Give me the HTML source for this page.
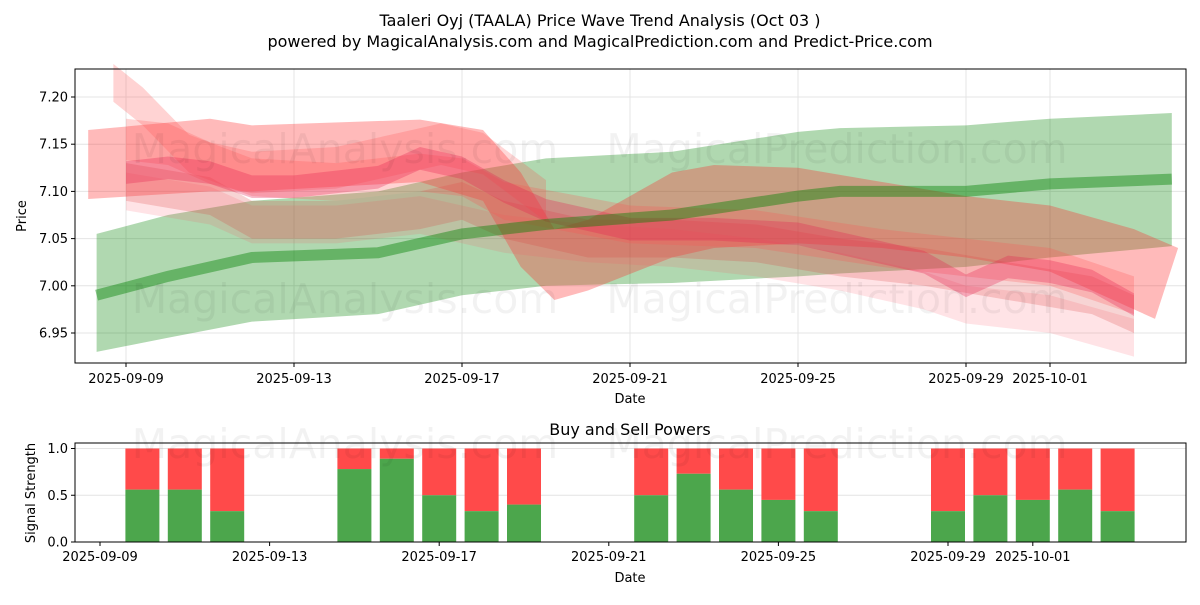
<!DOCTYPE html>
<html><head><meta charset="utf-8"><style>
body{margin:0;background:#fff;font-family:"Liberation Sans","DejaVu Sans",sans-serif}
svg text{font-family:"DejaVu Sans","Liberation Sans",sans-serif}
</style></head><body>
<svg id="chart" width="1200" height="600" viewBox="0 0 1200 600" xmlns="http://www.w3.org/2000/svg">
<text x="600" y="26" font-size="16" text-anchor="middle">Taaleri Oyj (TAALA) Price Wave Trend Analysis (Oct 03 )</text>
<text x="600" y="47" font-size="16" text-anchor="middle">powered by MagicalAnalysis.com and MagicalPrediction.com and Predict-Price.com</text>
<g id="topPanel"></g>
<g id="botPanel"></g>
</svg>
<script>
// ---- data (day offsets from 2025-09-09) ----
const yTicks=[6.95,7.00,7.05,7.10,7.15,7.20];
const xTickDays=[0,4,8,12,16,20,22];
const xTickLabels=["2025-09-09","2025-09-13","2025-09-17","2025-09-21","2025-09-25","2025-09-29","2025-10-01"];
const greenDays=[-0.7,1,3,6,8,10,13,16,17,20,22,24.9];
const greenMid=[6.99,7.01,7.03,7.035,7.055,7.065,7.075,7.095,7.10,7.10,7.108,7.113];
const greenUp=[7.055,7.075,7.09,7.10,7.12,7.135,7.142,7.163,7.167,7.17,7.177,7.183];
const greenLo=[6.93,6.945,6.962,6.97,6.99,7.0,7.003,7.01,7.013,7.02,7.03,7.042];
const bigUpDays=[-0.9,2,3,7,8.5,9.4,10.2,11,13,14,16,18,20,22,24,25.05];
const bigUp=[7.165,7.177,7.17,7.176,7.165,7.12,7.06,7.07,7.12,7.128,7.125,7.11,7.095,7.085,7.06,7.04];
const bigLoDays=[-0.9,2,3,7,8.5,9.4,10.2,11,13,14,16,18,20,22,24.5];
const bigLo=[7.092,7.1,7.1,7.11,7.09,7.02,6.985,6.995,7.03,7.04,7.045,7.04,7.03,7.015,6.965];
const b1Days=[-0.3,0.4,1.5,3,5,7,8,9,12,15,18,20,22,24];
const b1Mid=[7.215,7.19,7.14,7.115,7.11,7.12,7.115,7.09,7.065,7.06,7.04,7.03,7.02,6.99];
const b2Days=[0,1,2,3,4,5,6,7,8,9,10,12,14,16,18,19,20,21,22,23,24];
const b2Mid=[7.12,7.125,7.12,7.105,7.105,7.11,7.115,7.135,7.125,7.1,7.08,7.06,7.06,7.055,7.035,7.025,7.0,7.02,7.015,7.005,6.98];
const b3Days=[0,2,3,5,7,8,9,11,13,15,17,19,21,23,24];
const b3Mid=[7.11,7.095,7.07,7.07,7.08,7.09,7.07,7.05,7.05,7.045,7.03,7.02,7.005,6.99,6.97];
const b4Days=[0,2,3,5,7,9,11,13,15,17,19,20,22,24];
const b4Mid=[7.1,7.085,7.065,7.065,7.075,7.055,7.045,7.04,7.03,7.015,6.995,6.98,6.97,6.945];
const b5Days=[0,1,2,3,5,6.5,7.5,8.5,10];
const b5Mid=[7.155,7.15,7.13,7.12,7.125,7.14,7.15,7.14,7.09];
const barDays=[1,2,3,6,7,8,9,10,13,14,15,16,17,20,21,22,23,24];
const buyVals=[0.56,0.56,0.33,0.78,0.89,0.5,0.33,0.4,0.5,0.73,0.56,0.45,0.33,0.33,0.5,0.45,0.56,0.33];
const powTicks=[0,0.5,1.0];

const NS="http://www.w3.org/2000/svg";
function mk(p,t,a){const e=document.createElementNS(NS,t);for(const k in a)e.setAttribute(k,a[k]);p.appendChild(e);return e;}
const L=75,R=1186,T=69,B=363;
const X=d=>126+42*d, Y=v=>333+(6.95-v)*(236/0.25);
const topG=document.getElementById('topPanel'), botG=document.getElementById('botPanel');
const svgRoot=document.getElementById('chart');
yTicks.forEach((v,i)=>{
 const g=mk(topG,'line',{x1:L,x2:R,y1:Y(v),y2:Y(v),stroke:'#e4e4e4'});
 
 
 mk(topG,'line',{x1:L-4,x2:L,y1:Y(v),y2:Y(v),stroke:'#000'});
 const t=mk(topG,'text',{x:L-7,y:Y(v)+4.5,'font-size':13,'text-anchor':'end'});t.textContent=v.toFixed(2);
 
 
});
xTickDays.forEach((d,i)=>{
 mk(topG,'line',{x1:X(d),x2:X(d),y1:T,y2:B,stroke:'#e4e4e4'});
 mk(topG,'line',{x1:X(d),x2:X(d),y1:B,y2:B+4,stroke:'#000'});
 const t=mk(topG,'text',{x:X(d),y:B+20,'font-size':13,'text-anchor':'middle'});t.textContent=xTickLabels[i];
 
 
});
[[345,163,'MagicalAnalysis.com'],[837,163,'MagicalPrediction.com'],[345,313,'MagicalAnalysis.com'],[837,313,'MagicalPrediction.com'],[345,458,'MagicalAnalysis.com'],[837,458,'MagicalPrediction.com']].forEach(w=>{
 const t=mk(svgRoot,'text',{x:w[0],y:w[1],'font-size':41,'text-anchor':'middle',fill:'rgba(0,0,0,0.05)'});t.textContent=w[2];
 
 
});
function band2(upDays,up,loDays,lo,fill,name){
 let pts=upDays.map((d,i)=>X(d)+','+Y(up[i]));
 for(let i=loDays.length-1;i>=0;i--)pts.push(X(loDays[i])+','+Y(lo[i]));
 const p=mk(topG,'polygon',{points:pts.join(' '),fill:fill});
 
 
}
function cband(days,mid,hw,fill,name){band2(days,mid.map(v=>v+hw),days,mid.map(v=>v-hw),fill,name);}
band2(greenDays,greenUp,greenDays,greenLo,'rgba(0,128,0,0.31)','green-trend-band');
band2(bigUpDays,bigUp,bigLoDays,bigLo,'rgba(255,40,40,0.32)','red-wave-band-wide');
cband(b4Days,b4Mid,0.02,'rgba(255,80,100,0.16)','red-wave-band-lower');
cband(b3Days,b3Mid,0.02,'rgba(220,60,60,0.22)','red-wave-band-mid');
cband(b5Days,b5Mid,0.022,'rgba(255,70,70,0.22)','red-wave-band-upper');
cband(b1Days,b1Mid,0.02,'rgba(255,80,80,0.25)','red-wave-band-steep');
cband(b2Days,b2Mid,0.012,'rgba(230,30,80,0.3)','red-wave-band-core');
const gl=mk(topG,'polyline',{points:greenDays.map((d,i)=>X(d)+','+Y(greenMid[i])).join(' '),fill:'none',stroke:'rgba(0,128,0,0.42)','stroke-width':11});


mk(topG,'rect',{x:L,y:T,width:R-L,height:B-T,fill:'none',stroke:'#000'});
let tt=mk(topG,'text',{x:630,y:403,'font-size':13,'text-anchor':'middle'});tt.textContent='Date';


tt=mk(topG,'text',{x:0,y:0,'font-size':13,'text-anchor':'middle',transform:'translate(26,216) rotate(-90)'});tt.textContent='Price';



const BL=75,BR=1186,BT=443,BB=542;
const BX=d=>100+42.4*d, BY=v=>542-v*93.5;
powTicks.forEach(v=>{
 mk(botG,'line',{x1:BL,x2:BR,y1:BY(v),y2:BY(v),stroke:'#e4e4e4'});
 mk(botG,'line',{x1:BL-4,x2:BL,y1:BY(v),y2:BY(v),stroke:'#000'});
 const t=mk(botG,'text',{x:BL-7,y:BY(v)+4.5,'font-size':13,'text-anchor':'end'});t.textContent=v.toFixed(1);
 
 
});
barDays.forEach((d,i)=>{
 const r=mk(botG,'rect',{x:BX(d)-17,y:BY(1),width:34,height:BY(buyVals[i])-BY(1),fill:'#ff4a4a'});
 
 
 const g=mk(botG,'rect',{x:BX(d)-17,y:BY(buyVals[i]),width:34,height:BY(0)-BY(buyVals[i]),fill:'#4ca64c'});
 
 
});
xTickDays.forEach((d,i)=>{
 mk(botG,'line',{x1:BX(d),x2:BX(d),y1:BB,y2:BB+4,stroke:'#000'});
 const t=mk(botG,'text',{x:BX(d),y:BB+19,'font-size':13,'text-anchor':'middle'});t.textContent=xTickLabels[i];
 
 
});
mk(botG,'rect',{x:BL,y:BT,width:BR-BL,height:BB-BT,fill:'none',stroke:'#000'});
tt=mk(botG,'text',{x:630,y:435,'font-size':16,'text-anchor':'middle'});tt.textContent='Buy and Sell Powers';


tt=mk(botG,'text',{x:630,y:582,'font-size':13,'text-anchor':'middle'});tt.textContent='Date';


tt=mk(botG,'text',{x:0,y:0,'font-size':13,'text-anchor':'middle',transform:'translate(35,493) rotate(-90)'});tt.textContent='Signal Strength';


</script>
</body></html>
